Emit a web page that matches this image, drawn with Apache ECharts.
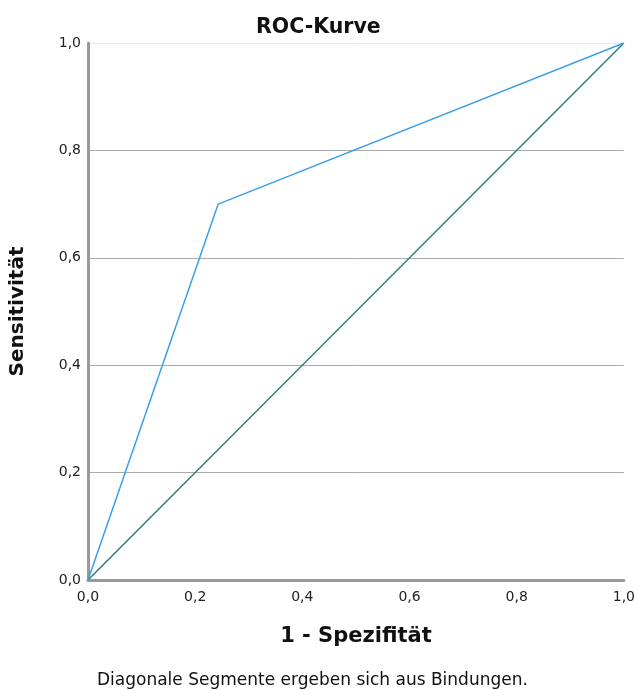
<!DOCTYPE html>
<html>
<head>
<meta charset="utf-8">
<script src="https://cdn.jsdelivr.net/npm/echarts@6/dist/echarts.min.js"></script>
<style>
  html, body { margin: 0; padding: 0; background: #fff; }
  #chart { width: 638px; height: 690px; }
</style>
</head>
<body>
<div id="chart"></div>
<script>
// ROC curve points: [1 - specificity, sensitivity]
const rocPoints = [[0.0, 0.0], [0.243, 0.70], [1.0, 1.0]];
// Reference diagonal
const diagonalPoints = [[0.0, 0.0], [1.0, 1.0]];
const tickValues = [0.0, 0.2, 0.4, 0.6, 0.8, 1.0];

const fmt = v => v.toFixed(1).replace('.', ',');
const FONT = 'DejaVu Sans';

const chart = echarts.init(document.getElementById('chart'));
chart.setOption({
  animation: false,
  backgroundColor: '#ffffff',
  title: [{
    text: 'ROC-Kurve',
    left: 251,
    top: 12,
    textStyle: { fontFamily: FONT, fontSize: 20.5, fontWeight: 'bold', color: '#111' }
  }, {
    text: 'Diagonale Segmente ergeben sich aus Bindungen.',
    left: 92,
    top: 667,
    textStyle: { fontFamily: FONT, fontSize: 17, fontWeight: 'normal', color: '#111' }
  }],
  grid: { left: 87, right: 12, top: 43, bottom: 110 },
  xAxis: {
    type: 'value', min: 0, max: 1, interval: 0.2,
    name: '1 - Spezifität', nameLocation: 'middle', nameGap: 46,
    nameTextStyle: { fontFamily: FONT, fontSize: 21, fontWeight: 'bold', color: '#111' },
    axisLine: { show: true, lineStyle: { color: '#999', width: 3 } },
    axisTick: { show: false },
    splitLine: { show: false },
    axisLabel: { formatter: fmt, fontFamily: FONT, fontSize: 14, color: '#222', margin: 10 }
  },
  yAxis: {
    type: 'value', min: 0, max: 1, interval: 0.2,
    name: 'Sensitivität', nameLocation: 'middle', nameGap: 60,
    nameTextStyle: { fontFamily: FONT, fontSize: 20, fontWeight: 'bold', color: '#111' },
    axisLine: { show: true, lineStyle: { color: '#999', width: 3 } },
    axisTick: { show: false },
    splitLine: {
      show: true,
      lineStyle: { color: ['#999', '#aaa', '#aaa', '#aaa', '#aaa', '#e6e6e6'], width: 1 }
    },
    axisLabel: { formatter: fmt, fontFamily: FONT, fontSize: 14, color: '#222', margin: 7 }
  },
  series: [{
    type: 'line',
    data: diagonalPoints,
    symbol: 'none',
    lineStyle: { color: '#2e7f7c', width: 1.5 },
    z: 2
  }, {
    type: 'line',
    data: rocPoints,
    symbol: 'none',
    lineStyle: { color: '#3aa0ec', width: 1.5 },
    z: 3
  }]
});
</script>
</body>
</html>
